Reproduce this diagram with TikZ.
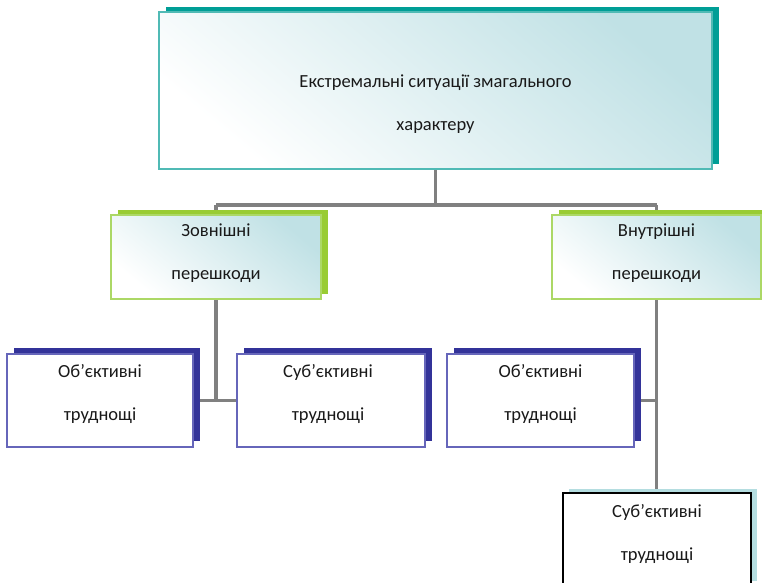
\documentclass[tikz,border=0pt]{standalone}
\usepackage{fontspec}
\setmainfont{Carlito}
\usetikzlibrary{shadows,backgrounds}

\definecolor{tealDark}{RGB}{0,158,150}
\definecolor{tealLine}{RGB}{80,186,181}
\definecolor{tealTint}{RGB}{192,225,229}
\definecolor{greenDark}{RGB}{153,204,51}
\definecolor{greenLine}{RGB}{172,216,102}
\definecolor{navyDark}{RGB}{51,51,153}
\definecolor{navyLine}{RGB}{102,102,186}
\definecolor{iceShadow}{RGB}{180,221,224}
\definecolor{connGray}{RGB}{128,128,128}
\definecolor{inkText}{RGB}{25,25,25}

\begin{document}
\begin{tikzpicture}[x=1pt, y=-1pt,
  boxbase/.style={rectangle, anchor=north west, inner sep=0pt, outer sep=0pt, line width=1.1pt},
  tintfill/.style={shade, top color=tealTint, bottom color=white, shading angle=-40},
  topbox/.style={boxbase, draw=tealLine, tintfill,
    drop shadow={shadow xshift=7pt, shadow yshift=5pt, fill=tealDark, opacity=1}},
  midbox/.style={boxbase, draw=greenLine, tintfill,
    drop shadow={shadow xshift=7pt, shadow yshift=5pt, fill=greenDark, opacity=1}},
  lowbox/.style={boxbase, draw=navyLine, fill=white,
    drop shadow={shadow xshift=7pt, shadow yshift=6pt, fill=navyDark, opacity=1}},
  endbox/.style={boxbase, draw=black, fill=white,
    drop shadow={shadow xshift=6pt, shadow yshift=4pt, fill=iceShadow, opacity=1}},
  lbl/.style={align=center, text=inkText, inner sep=0pt, font=\fontsize{18.5}{43}\selectfont},
  conn/.style={draw=connGray, line width=3.5pt}
]
\clip (0,0) rectangle (762,582);
\useasboundingbox (0,0) rectangle (762,582);

% boxes
\node[topbox, minimum width=553pt, minimum height=157pt] (top) at (159,12) {};
\node[midbox, minimum width=210pt, minimum height=84pt] (zov) at (111,215) {};
\node[midbox, minimum width=209pt, minimum height=84pt] (vnu) at (552,215) {};
\node[lowbox, minimum width=186pt, minimum height=93pt] (obL) at (7,354) {};
\node[lowbox, minimum width=188pt, minimum height=93pt] (subL) at (237,354) {};
\node[lowbox, minimum width=187pt, minimum height=93pt] (obR) at (447,354) {};
\node[endbox, minimum width=188pt, minimum height=92pt] (subR) at (563,493) {};

% connectors, kept behind the boxes
\coordinate (busY) at (0,205);
\begin{scope}[on background layer]
  \draw[conn] (top.south) -- (top.south |- busY);
  \draw[conn] (zov.north |- busY) -- (vnu.north |- busY);
  \draw[conn] (zov.north |- busY) -- (zov.north);
  \draw[conn] (vnu.north |- busY) -- (vnu.north);
  \draw[conn] (zov.south) -- (zov.south |- obL.east);
  \draw[conn] (obL.east) -- (subL.west);
  \draw[conn] (vnu.south) -- (vnu.south |- subR.north);
  \draw[conn] (obR.east) -- (obR.east -| vnu.south);
\end{scope}

% labels
\node[lbl] (topT) at ([yshift=-13.5pt]top.center) {Екстремальні ситуації змагального\\характеру};
\node[lbl] (zovT) at ([yshift=3.5pt]zov.center) {Зовнішні\\перешкоди};
\node[lbl] (vnuT) at ([yshift=3.5pt]vnu.center) {Внутрішні\\перешкоди};
\node[lbl] (obLT) at ([yshift=7pt]obL.center) {Об’єктивні\\труднощі};
\node[lbl] (subLT) at ([yshift=7pt,xshift=-3pt]subL.center) {Суб’єктивні\\труднощі};
\node[lbl] (obRT) at ([yshift=7pt]obR.center) {Об’єктивні\\труднощі};
\node[lbl] (subRT) at ([yshift=5.5pt]subR.center) {Суб’єктивні\\труднощі};
\end{tikzpicture}
\end{document}
